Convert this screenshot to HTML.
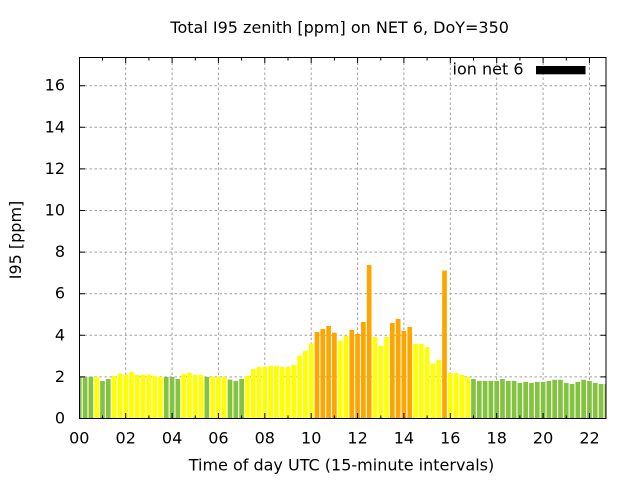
<!DOCTYPE html>
<html><head><meta charset="utf-8"><style>
html,body{margin:0;padding:0;background:#fff;}
svg{display:block;}
text{font-family:"DejaVu Sans","Liberation Sans",sans-serif;font-size:16px;fill:#000;}
</style></head><body>
<svg width="640" height="480" viewBox="0 0 640 480" xmlns="http://www.w3.org/2000/svg">
<rect x="0" y="0" width="640" height="480" fill="#fff"/>
<defs><clipPath id="pa"><rect x="79.5" y="57.5" width="526.5" height="361"/></clipPath></defs>
<path stroke="#a0a0a0" stroke-width="1" stroke-dasharray="2.5,2.5" fill="none" d="M79.5 376.9H606M79.5 335.3H606M79.5 293.7H606M79.5 252.1H606M79.5 210.5H606M79.5 168.9H606M79.5 127.3H606M79.5 85.7H606M125.7 57.5V418.5M172.1 57.5V418.5M218.4 57.5V418.5M264.8 57.5V418.5M311.2 57.5V418.5M357.6 57.5V418.5M403.9 57.5V418.5M450.3 57.5V418.5M496.7 57.5V418.5M543.1 57.5V418.5M589.5 57.5V418.5"/>
<g clip-path="url(#pa)">
<path fill="#84c241" d="M76.95 418.5V376.9h4.7V418.5zM82.75 418.5V377.3h4.7V418.5zM88.54 418.5V376.9h4.7V418.5zM100.14 418.5V380.85h4.7V418.5zM105.94 418.5V378.98h4.7V418.5zM163.91 418.5V376.9h4.7V418.5zM169.7 418.5V376.9h4.7V418.5zM175.5 418.5V378.98h4.7V418.5zM204.48 418.5V376.9h4.7V418.5zM227.67 418.5V379.6h4.7V418.5zM233.47 418.5V380.85h4.7V418.5zM239.27 418.5V378.98h4.7V418.5zM471.15 418.5V378.98h4.7V418.5zM476.94 418.5V380.85h4.7V418.5zM482.74 418.5V380.85h4.7V418.5zM488.54 418.5V380.85h4.7V418.5zM494.33 418.5V380.85h4.7V418.5zM500.13 418.5V378.98h4.7V418.5zM505.93 418.5V380.85h4.7V418.5zM511.73 418.5V380.85h4.7V418.5zM517.52 418.5V382.93h4.7V418.5zM523.32 418.5V381.89h4.7V418.5zM529.12 418.5V382.93h4.7V418.5zM534.91 418.5V381.89h4.7V418.5zM540.71 418.5V381.89h4.7V418.5zM546.51 418.5V380.85h4.7V418.5zM552.3 418.5V379.81h4.7V418.5zM558.1 418.5V379.81h4.7V418.5zM563.9 418.5V382.93h4.7V418.5zM569.7 418.5V383.97h4.7V418.5zM575.49 418.5V381.89h4.7V418.5zM581.29 418.5V379.81h4.7V418.5zM587.09 418.5V380.85h4.7V418.5zM592.88 418.5V382.93h4.7V418.5zM598.68 418.5V383.97h4.7V418.5zM604.48 418.5V383.97h4.7V418.5z"/>
<path fill="#ffff00" d="M94.34 418.5V376.9h4.7V418.5zM111.73 418.5V375.86h4.7V418.5zM117.53 418.5V373.57h4.7V418.5zM123.33 418.5V374.82h4.7V418.5zM129.12 418.5V371.91h4.7V418.5zM134.92 418.5V374.82h4.7V418.5zM140.72 418.5V374.82h4.7V418.5zM146.51 418.5V374.82h4.7V418.5zM152.31 418.5V375.86h4.7V418.5zM158.11 418.5V376.9h4.7V418.5zM181.3 418.5V373.78h4.7V418.5zM187.09 418.5V372.74h4.7V418.5zM192.89 418.5V374.82h4.7V418.5zM198.69 418.5V374.82h4.7V418.5zM210.28 418.5V376.9h4.7V418.5zM216.08 418.5V376.9h4.7V418.5zM221.88 418.5V376.9h4.7V418.5zM245.06 418.5V375.86h4.7V418.5zM250.86 418.5V369h4.7V418.5zM256.66 418.5V366.92h4.7V418.5zM262.45 418.5V366.92h4.7V418.5zM268.25 418.5V365.88h4.7V418.5zM274.05 418.5V365.88h4.7V418.5zM279.85 418.5V366.92h4.7V418.5zM285.64 418.5V366.92h4.7V418.5zM291.44 418.5V364.84h4.7V418.5zM297.24 418.5V355.68h4.7V418.5zM303.03 418.5V350.9h4.7V418.5zM308.83 418.5V343.62h4.7V418.5zM337.82 418.5V340.92h4.7V418.5zM343.61 418.5V335.92h4.7V418.5zM372.6 418.5V336.96h4.7V418.5zM378.39 418.5V345.91h4.7V418.5zM384.19 418.5V336.96h4.7V418.5zM413.18 418.5V343.83h4.7V418.5zM418.97 418.5V343.83h4.7V418.5zM424.77 418.5V346.95h4.7V418.5zM430.57 418.5V363.59h4.7V418.5zM436.36 418.5V359.84h4.7V418.5zM447.96 418.5V372.95h4.7V418.5zM453.76 418.5V372.95h4.7V418.5zM459.55 418.5V374.82h4.7V418.5zM465.35 418.5V376.9h4.7V418.5z"/>
<path fill="#ffa500" d="M314.63 418.5V331.97h4.7V418.5zM320.42 418.5V328.85h4.7V418.5zM326.22 418.5V325.94h4.7V418.5zM332.02 418.5V332.8h4.7V418.5zM349.41 418.5V329.89h4.7V418.5zM355.21 418.5V333.84h4.7V418.5zM361 418.5V321.99h4.7V418.5zM366.8 418.5V265h4.7V418.5zM389.99 418.5V322.82h4.7V418.5zM395.79 418.5V318.87h4.7V418.5zM401.58 418.5V330.93h4.7V418.5zM407.38 418.5V326.98h4.7V418.5zM442.16 418.5V270.61h4.7V418.5z"/>
</g>
<rect x="79.5" y="57.5" width="526.5" height="361" fill="none" stroke="#000" stroke-width="1"/>
<path stroke="#000" stroke-width="1" fill="none" d="M79.5 376.9h5.5M600.5 376.9h5.5M79.5 335.3h5.5M600.5 335.3h5.5M79.5 293.7h5.5M600.5 293.7h5.5M79.5 252.1h5.5M600.5 252.1h5.5M79.5 210.5h5.5M600.5 210.5h5.5M79.5 168.9h5.5M600.5 168.9h5.5M79.5 127.3h5.5M600.5 127.3h5.5M79.5 85.7h5.5M600.5 85.7h5.5M125.7 418.5v-5.5M125.7 57.5v5.5M172.1 418.5v-5.5M172.1 57.5v5.5M218.4 418.5v-5.5M218.4 57.5v5.5M264.8 418.5v-5.5M264.8 57.5v5.5M311.2 418.5v-5.5M311.2 57.5v5.5M357.6 418.5v-5.5M357.6 57.5v5.5M403.9 418.5v-5.5M403.9 57.5v5.5M450.3 418.5v-5.5M450.3 57.5v5.5M496.7 418.5v-5.5M496.7 57.5v5.5M543.1 418.5v-5.5M543.1 57.5v5.5M589.5 418.5v-5.5M589.5 57.5v5.5M102.5 418.5v-3M102.5 57.5v3M148.9 418.5v-3M148.9 57.5v3M195.3 418.5v-3M195.3 57.5v3M241.6 418.5v-3M241.6 57.5v3M288 418.5v-3M288 57.5v3M334.4 418.5v-3M334.4 57.5v3M380.8 418.5v-3M380.8 57.5v3M427.1 418.5v-3M427.1 57.5v3M473.5 418.5v-3M473.5 57.5v3M519.9 418.5v-3M519.9 57.5v3M566.3 418.5v-3M566.3 57.5v3"/>
<g text-anchor="end">
<text x="65" y="423.5">0</text>
<text x="65" y="381.9">2</text>
<text x="65" y="340.3">4</text>
<text x="65" y="298.7">6</text>
<text x="65" y="257.1">8</text>
<text x="65" y="215.5">10</text>
<text x="65" y="173.9">12</text>
<text x="65" y="132.3">14</text>
<text x="65" y="90.7">16</text>
</g>
<g text-anchor="middle">
<text x="79.3" y="443.3">00</text>
<text x="125.7" y="443.3">02</text>
<text x="172.1" y="443.3">04</text>
<text x="218.4" y="443.3">06</text>
<text x="264.8" y="443.3">08</text>
<text x="311.2" y="443.3">10</text>
<text x="357.6" y="443.3">12</text>
<text x="403.9" y="443.3">14</text>
<text x="450.3" y="443.3">16</text>
<text x="496.7" y="443.3">18</text>
<text x="543.1" y="443.3">20</text>
<text x="589.5" y="443.3">22</text>
</g>
<text x="339.7" y="33" text-anchor="middle">Total I95 zenith [ppm] on NET 6, DoY=350</text>
<text x="341.5" y="470.3" text-anchor="middle">Time of day UTC (15-minute intervals)</text>
<text transform="translate(21,240) rotate(-90)" text-anchor="middle">I95 [ppm]</text>
<text x="523.5" y="74.5" text-anchor="end">ion net 6</text>
<rect x="536" y="66" width="49.5" height="8.3" fill="#000"/>
</svg>
</body></html>
